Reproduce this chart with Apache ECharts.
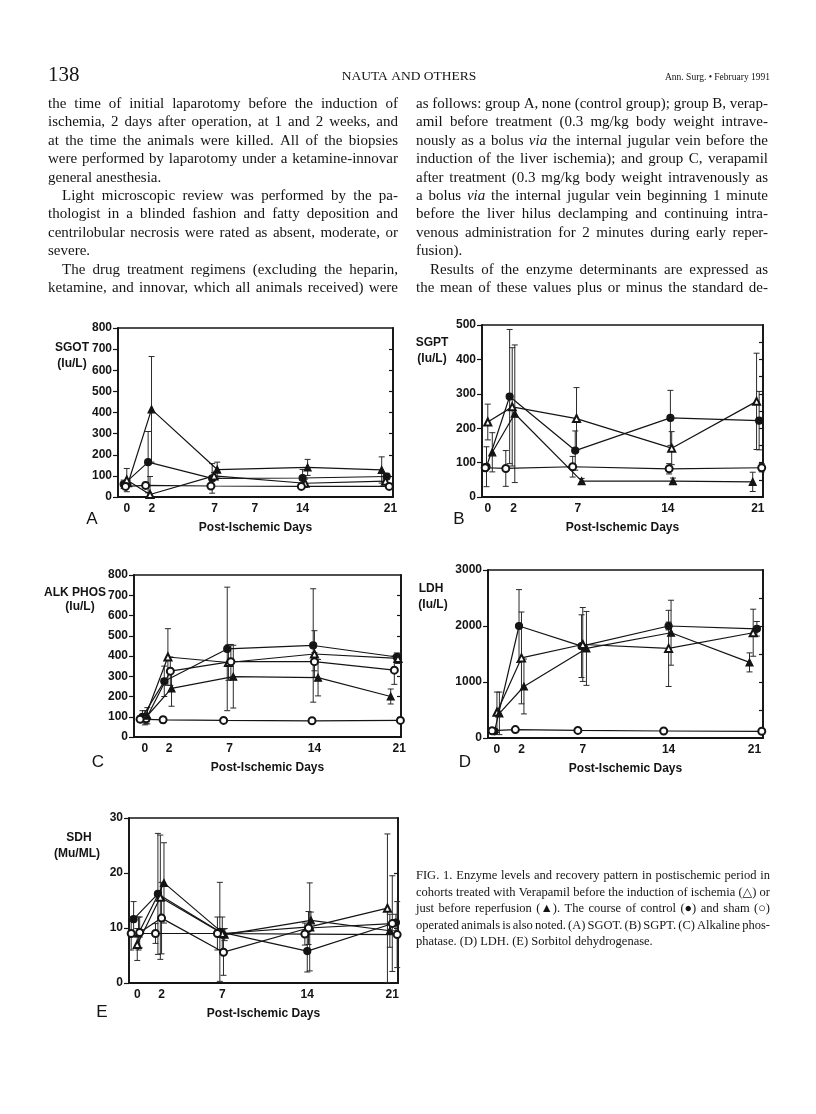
<!DOCTYPE html>
<html><head><meta charset="utf-8">
<script src="https://cdn.jsdelivr.net/npm/echarts@6/dist/echarts.min.js"></script>
<style>html,body{margin:0;padding:0;background:#fff}#c{width:816px;height:1114px}</style>
</head><body><div id="c"></div>
<script>
// ---------- tick labels ----------
const xTickValues = [0, 2, 7, 14, 21];
const xTickLabels = ['0', '2', '7', '14', '21'];
const sgotXTickValues = [0, 2, 7, 10.2, 14, 21];
const sgotXTickLabels = ['0', '2', '7', '7', '14', '21'];
const sgotYTicks = [0, 100, 200, 300, 400, 500, 600, 700, 800];
const sgotRightTicks = [100, 200, 300, 400, 500, 600, 700];
const sgptYTicks = [0, 100, 200, 300, 400, 500];
const sgptRightTicks = [50, 100, 150, 200, 250, 300, 350, 400, 450];
const alkYTicks = [0, 100, 200, 300, 400, 500, 600, 700, 800];
const alkRightTicks = [100, 200, 300, 400, 500, 600, 700];
const ldhYTicks = [0, 1000, 2000, 3000];
const ldhRightTicks = [500, 1000, 1500, 2000, 2500];
const sdhYTicks = [0, 10, 20, 30];
const sdhRightTicks = [10, 20];

// ---------- A: SGOT ----------
const sgotCtrlX = [-0.25, 1.7, 6.8, 14.0, 20.7];
const sgotCtrl = [60, 165, 88, 90, 97];
const sgotCtrlSD = [20, 145, 70, 40, 15];
const sgotAfterX = [0.1, 1.97, 7.2, 14.4, 20.3];
const sgotAfter = [65, 415, 130, 140, 128];
const sgotAfterSD = [15, 250, 35, 38, 62];
const sgotBeforeX = [0.0, 1.85, 6.95, 14.2, 20.6];
const sgotBefore = [80, 12, 100, 65, 75];
const sgotBeforeSD = [55, 85, 15, 20, 10];
const sgotShamX = [-0.1, 1.5, 6.7, 13.9, 20.9];
const sgotSham = [50, 55, 52, 50, 50];
const sgotShamSD = [12, 15, 12, 8, 6];

// ---------- B: SGPT ----------
const sgptCtrlX = [-0.1, 1.7, 6.8, 14.2, 21.1];
const sgptCtrl = [88, 292, 135, 230, 222];
const sgptCtrlSD = [58, 195, 57, 80, 85];
const sgptBeforeX = [0.0, 1.9, 6.9, 14.3, 20.9];
const sgptBefore = [218, 262, 228, 142, 278];
const sgptBeforeSD = [52, 172, 90, 48, 140];
const sgptAfterX = [0.35, 2.1, 7.3, 14.4, 20.6];
const sgptAfter = [130, 242, 46, 46, 44];
const sgptAfterSD = [57, 200, 8, 9, 28];
const sgptShamX = [-0.2, 1.4, 6.6, 14.1, 21.3];
const sgptSham = [85, 83, 88, 82, 85];
const sgptShamSD = [10, 52, 30, 15, 12];

// ---------- C: ALK PHOS ----------
const alkCtrlX = [-0.2, 1.6, 6.8, 13.9, 20.8];
const alkCtrl = [100, 275, 435, 452, 395];
const alkCtrlSD = [30, 75, 305, 280, 20];
const alkBeforeX = [0.0, 1.9, 6.9, 14.0, 20.9];
const alkBefore = [95, 395, 368, 410, 388];
const alkBeforeSD = [35, 140, 88, 115, 25];
const alkOpenX = [0.1, 2.1, 7.1, 14.0, 20.6];
const alkOpen = [90, 325, 372, 372, 330];
const alkOpenSD = [25, 70, 85, 45, 70];
const alkAfterX = [0.2, 2.2, 7.3, 14.3, 20.3];
const alkAfter = [105, 240, 298, 293, 200];
const alkAfterSD = [40, 88, 155, 90, 37];
const alkShamX = [-0.4, 1.5, 6.5, 13.8, 21.1];
const alkSham = [88, 85, 82, 80, 82];
const alkShamSD = [15, 15, 8, 12, 6];

// ---------- D: LDH ----------
const ldhCtrlX = [-0.2, 1.8, 6.9, 14.0, 21.2];
const ldhCtrl = [120, 2000, 1640, 2000, 1950];
const ldhCtrlSD = [30, 650, 560, 70, 130];
const ldhBeforeX = [0.0, 2.0, 7.0, 14.0, 20.9];
const ldhBefore = [460, 1430, 1670, 1600, 1880];
const ldhBeforeSD = [360, 820, 660, 680, 420];
const ldhAfterX = [0.2, 2.2, 7.3, 14.2, 20.6];
const ldhAfter = [440, 920, 1600, 1880, 1350];
const ldhAfterSD = [380, 490, 660, 580, 170];
const ldhShamX = [-0.4, 1.5, 6.6, 13.6, 21.6];
const ldhSham = [130, 150, 135, 125, 120];
const ldhShamSD = [20, 20, 25, 15, 10];

// ---------- E: SDH ----------
const sdhCtrlX = [-0.3, 1.7, 6.8, 14.0, 21.3];
const sdhCtrl = [11.6, 16.2, 9.3, 5.8, 11.0];
const sdhCtrlSD = [3.2, 11, 9, 3.8, 1.5];
const sdhAfterX = [0.1, 2.2, 7.2, 14.3, 20.8];
const sdhAfter = [9.0, 18.2, 8.8, 11.4, 9.5];
const sdhAfterSD = [3, 7.3, 1.1, 1.5, 3];
const sdhBeforeX = [0.0, 1.9, 7.0, 14.2, 20.6];
const sdhBefore = [7.0, 15.6, 9.0, 10.2, 13.6];
const sdhBeforeSD = [2.9, 11.3, 3, 8, 13.5];
const sdhOpenX = [0.2, 2.0, 7.1, 14.1, 21.0];
const sdhOpen = [9.2, 11.8, 5.6, 10.0, 10.8];
const sdhOpenSD = [2.8, 6.5, 4.2, 3, 8.7];
const sdhShamX = [-0.5, 1.5, 6.6, 13.8, 21.4];
const sdhSham = [9, 9, 9, 8.9, 8.8];
const sdhShamSD = [3, 1.8, 3, 2, 6];

// ---------- page text ----------
const leftColumnLines = [
 'the time of initial laparotomy before the induction of',
 'ischemia, 2 days after operation, at 1 and 2 weeks, and',
 'at the time the animals were killed. All of the biopsies',
 'were performed by laparotomy under a ketamine-innovar',
 'general anesthesia.',
 'Light microscopic review was performed by the pa-',
 'thologist in a blinded fashion and fatty deposition and',
 'centrilobular necrosis were rated as absent, moderate, or',
 'severe.',
 'The drug treatment regimens (excluding the heparin,',
 'ketamine, and innovar, which all animals received) were'
];
const leftIndent = [5, 9];
const leftLast = [4, 8];
const rightColumnLines = [
 'as follows: group A, none (control group); group B, verap-',
 'amil before treatment (0.3 mg/kg body weight intrave-',
 'nously as a bolus *via the internal jugular vein before the',
 'induction of the liver ischemia); and group C, verapamil',
 'after treatment (0.3 mg/kg body weight intravenously as',
 'a bolus *via the internal jugular vein beginning 1 minute',
 'before the liver hilus declamping and continuing intra-',
 'venous administration for 2 minutes during early reper-',
 'fusion).',
 'Results of the enzyme determinants are expressed as',
 'the mean of these values plus or minus the standard de-'
];
const rightIndent = [9];
const rightLast = [8];
const captionLines = [
 'FIG. 1. Enzyme levels and recovery pattern in postischemic period in',
 'cohorts treated with Verapamil before the induction of ischemia (\u25B3) or',
 'just before reperfusion (\u25B2). The course of control (\u25CF) and sham (\u25CB)',
 'operated animals is also noted. (A) SGOT. (B) SGPT. (C) Alkaline phos-',
 'phatase. (D) LDH. (E) Sorbitol dehydrogenase.'
];

// ---------- rendering ----------
const SERIF = '"Liberation Serif", "DejaVu Serif", serif';
const SANS = '"Liberation Sans", Arial, sans-serif';
const INK = '#141414';
const mctx = document.createElement('canvas').getContext('2d');
const graphics = [];

function textLine(line, x0, x1, y, size, justify) {
  const words = line.split(' ');
  const fonts = words.map(w => (w.startsWith('*') ? 'italic ' : '') + size + 'px ' + SERIF);
  const clean = words.map(w => w.replace(/\*/g, ''));
  const widths = clean.map((w, i) => { mctx.font = fonts[i]; return mctx.measureText(w).width; });
  mctx.font = fonts[0];
  const space = mctx.measureText(' ').width;
  const total = widths.reduce((a, b) => a + b, 0);
  const gap = (justify && words.length > 1) ? (x1 - x0 - total) / (words.length - 1) : space;
  let x = x0;
  clean.forEach((w, i) => {
    graphics.push({type: 'text', x: x, y: y, silent: true,
      style: {text: w, font: fonts[i], fill: INK, align: 'left', verticalAlign: 'middle'}});
    x += widths[i] + gap;
  });
}
function label(text, x, y, font, align) {
  graphics.push({type: 'text', x: x, y: y, silent: true,
    style: {text: text, font: font, fill: INK, align: align || 'center', verticalAlign: 'middle'}});
}

// header
label('138', 48, 75, '21px ' + SERIF, 'left');
label('NAUTA AND OTHERS', 409, 76, '13.5px ' + SERIF);
label('Ann. Surg. \u2022 February 1991', 770, 77, '9.5px ' + SERIF, 'right');

leftColumnLines.forEach((ln, i) => {
  const ind = leftIndent.includes(i) ? 14 : 0;
  textLine(ln, 48 + ind, 398, 104 + 18.4 * i, 15, !leftLast.includes(i));
});
rightColumnLines.forEach((ln, i) => {
  const ind = rightIndent.includes(i) ? 14 : 0;
  textLine(ln, 416 + ind, 768, 104 + 18.4 * i, 15, !rightLast.includes(i));
});
captionLines.forEach((ln, i) => {
  textLine(ln, 416, 770, 876 + 16.5 * i, 12.5, i < captionLines.length - 1);
});

const panels = [
  {grid: {left: 118, top: 328, width: 275, height: 169}, xmin: -0.7, xmax: 21.2, ymax: 800,
   yTicks: sgotYTicks, rTicks: sgotRightTicks, xTicks: sgotXTickValues, xLabels: sgotXTickLabels,
   yName: ['SGOT', '(Iu/L)'], yNamePos: [[72, 348], [72, 364]], yNameAlign: 'center', letter: 'A', letterPos: [92, 519],
   groups: [[sgotCtrlX, sgotCtrl, sgotCtrlSD, 'circle'], [sgotAfterX, sgotAfter, sgotAfterSD, 'triangle'],
            [sgotBeforeX, sgotBefore, sgotBeforeSD, 'emptyTriangle'], [sgotShamX, sgotSham, sgotShamSD, 'emptyCircle']]},
  {grid: {left: 482, top: 325, width: 281, height: 172}, xmin: -0.45, xmax: 21.4, ymax: 500,
   yTicks: sgptYTicks, rTicks: sgptRightTicks, xTicks: xTickValues, xLabels: xTickLabels,
   yName: ['SGPT', '(Iu/L)'], yNamePos: [[432, 343], [432, 359]], yNameAlign: 'center', letter: 'B', letterPos: [459, 519],
   groups: [[sgptCtrlX, sgptCtrl, sgptCtrlSD, 'circle'], [sgptBeforeX, sgptBefore, sgptBeforeSD, 'emptyTriangle'],
            [sgptAfterX, sgptAfter, sgptAfterSD, 'triangle'], [sgptShamX, sgptSham, sgptShamSD, 'emptyCircle']]},
  {grid: {left: 134, top: 575, width: 267, height: 162}, xmin: -0.9, xmax: 21.15, ymax: 800,
   yTicks: alkYTicks, rTicks: alkRightTicks, xTicks: xTickValues, xLabels: xTickLabels,
   yName: ['ALK PHOS', '(Iu/L)'], yNamePos: [[106, 593], [80, 607]], yNameAlign: 'right', letter: 'C', letterPos: [98, 762],
   groups: [[alkCtrlX, alkCtrl, alkCtrlSD, 'circle'], [alkBeforeX, alkBefore, alkBeforeSD, 'emptyTriangle'],
            [alkOpenX, alkOpen, alkOpenSD, 'emptyCircle'], [alkAfterX, alkAfter, alkAfterSD, 'triangle'],
            [alkShamX, alkSham, alkShamSD, 'emptyCircle']]},
  {grid: {left: 488, top: 570, width: 275, height: 168}, xmin: -0.73, xmax: 21.7, ymax: 3000,
   yTicks: ldhYTicks, rTicks: ldhRightTicks, xTicks: xTickValues, xLabels: xTickLabels,
   yName: ['LDH', '(Iu/L)'], yNamePos: [[431, 589], [433, 605]], yNameAlign: 'center', letter: 'D', letterPos: [465, 762],
   groups: [[ldhCtrlX, ldhCtrl, ldhCtrlSD, 'circle'], [ldhBeforeX, ldhBefore, ldhBeforeSD, 'emptyTriangle'],
            [ldhAfterX, ldhAfter, ldhAfterSD, 'triangle'], [ldhShamX, ldhSham, ldhShamSD, 'emptyCircle']]},
  {grid: {left: 129, top: 818, width: 269, height: 165}, xmin: -0.68, xmax: 21.47, ymax: 30,
   yTicks: sdhYTicks, rTicks: sdhRightTicks, xTicks: xTickValues, xLabels: xTickLabels,
   yName: ['SDH', '(Mu/ML)'], yNamePos: [[79, 838], [77, 854]], yNameAlign: 'center', letter: 'E', letterPos: [102, 1012],
   groups: [[sdhCtrlX, sdhCtrl, sdhCtrlSD, 'circle'], [sdhAfterX, sdhAfter, sdhAfterSD, 'triangle'],
            [sdhBeforeX, sdhBefore, sdhBeforeSD, 'emptyTriangle'], [sdhOpenX, sdhOpen, sdhOpenSD, 'emptyCircle'],
            [sdhShamX, sdhSham, sdhShamSD, 'emptyCircle']]}
];

const tickFont = {fontFamily: SANS, fontWeight: 'bold', fontSize: 12, color: INK};
const grids = [], xAxes = [], yAxes = [], series = [];

function renderErr(params, api) {
  const x = api.value(0);
  const lo = Math.max(0, api.value(1));
  const hi = api.value(2);
  const a = api.coord([x, hi]);
  const b = api.coord([x, lo]);
  const w = 3;
  const st = {stroke: '#2a2a2a', lineWidth: 1};
  return {type: 'group', children: [
    {type: 'line', shape: {x1: a[0], y1: a[1], x2: b[0], y2: b[1]}, style: st},
    {type: 'line', shape: {x1: a[0] - w, y1: a[1], x2: a[0] + w, y2: a[1]}, style: st},
    {type: 'line', shape: {x1: b[0] - w, y1: b[1], x2: b[0] + w, y2: b[1]}, style: st}
  ]};
}

panels.forEach((p, k) => {
  grids.push(Object.assign({show: true, borderColor: INK, borderWidth: 1.5, backgroundColor: 'transparent'}, p.grid));
  xAxes.push({gridIndex: k, type: 'value', min: p.xmin, max: p.xmax,
    axisLine: {onZero: false, lineStyle: {color: INK, width: 1.8}},
    axisTick: {show: false}, splitLine: {show: false},
    axisLabel: Object.assign({customValues: p.xTicks, margin: 6,
      formatter: (v) => { const i = p.xTicks.indexOf(v); return i >= 0 ? p.xLabels[i] : ''; }}, tickFont),
    name: 'Post-Ischemic Days', nameLocation: 'middle', nameGap: 25,
    nameTextStyle: {fontFamily: SANS, fontWeight: 'bold', fontSize: 12, color: INK}});
  yAxes.push({gridIndex: k, type: 'value', min: 0, max: p.ymax, position: 'left',
    axisLine: {show: true, onZero: false, lineStyle: {color: INK, width: 1.8}},
    axisTick: {show: true, length: 5, customValues: p.yTicks, lineStyle: {color: INK, width: 1.2}},
    axisLabel: Object.assign({customValues: p.yTicks, margin: 6, formatter: (v) => String(v)}, tickFont),
    splitLine: {show: false}});
  yAxes.push({gridIndex: k, type: 'value', min: 0, max: p.ymax, position: 'right',
    axisLine: {show: true, onZero: false, lineStyle: {color: INK, width: 1.8}},
    axisTick: {show: true, inside: true, length: 4, customValues: p.rTicks, lineStyle: {color: INK, width: 1.2}},
    axisLabel: {show: false}, splitLine: {show: false}});
  p.groups.forEach(([xs, ys, sds, sym]) => {
    series.push({type: 'custom', xAxisIndex: k, yAxisIndex: 2 * k, silent: true, z: 2,
      data: xs.map((x, i) => [x, ys[i] - sds[i], ys[i] + sds[i]]),
      encode: {x: 0, y: [1, 2]}, renderItem: renderErr, animation: false});
    series.push({type: 'line', xAxisIndex: k, yAxisIndex: 2 * k, z: 3, silent: true,
      data: xs.map((x, i) => [x, ys[i]]), symbol: sym, symbolSize: 7, showSymbol: true,
      lineStyle: {color: INK, width: 1.2}, itemStyle: {color: INK, borderColor: INK, borderWidth: 1.2},
      animation: false});
  });
  label(p.yName[0], p.yNamePos[0][0], p.yNamePos[0][1], 'bold 12px ' + SANS, p.yNameAlign);
  label(p.yName[1], p.yNamePos[1][0], p.yNamePos[1][1], 'bold 12px ' + SANS, 'center');
  label(p.letter, p.letterPos[0], p.letterPos[1], '17px ' + SANS);
});

const chart = echarts.init(document.getElementById('c'), null, {renderer: 'canvas'});
chart.setOption({
  backgroundColor: '#ffffff',
  animation: false,
  grid: grids, xAxis: xAxes, yAxis: yAxes, series: series,
  graphic: {elements: graphics}
});
</script></body></html>
